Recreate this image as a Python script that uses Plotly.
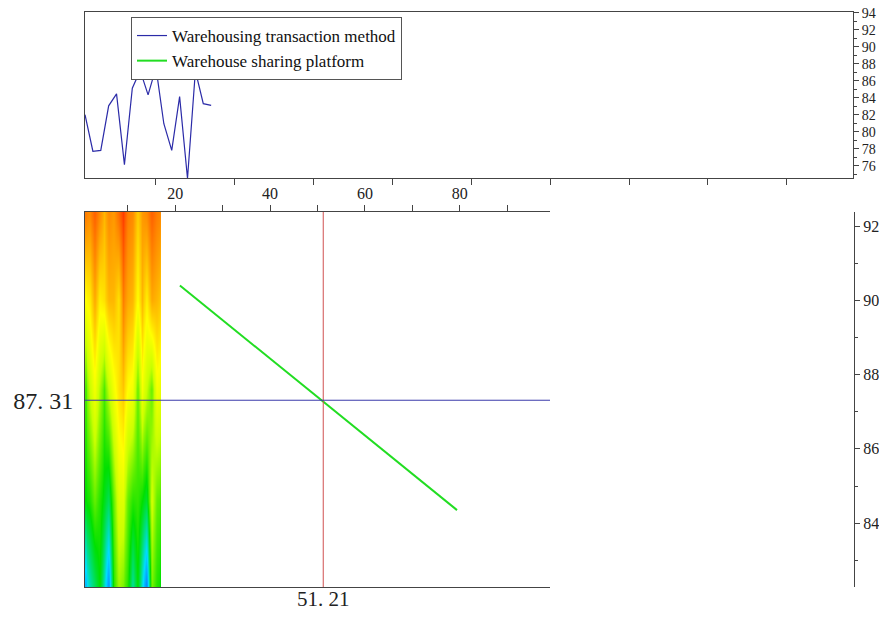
import plotly.graph_objects as go

# ---- data ----
idx = list(range(1, 18))
transaction_vals = [82.0, 77.7, 77.8, 83.05, 84.46, 76.12, 85.12, 87.2, 84.34, 87.55,
                    80.94, 77.8, 84.14, 74.5, 87.16, 83.3, 83.1]
platform_x = [21.0, 79.4]
platform_y = [90.4, 84.35]
cross_x = 51.21
cross_y = 87.31

heat_y = [82.35, 84.6, 87.6, 90.0, 92.3]
heat_bottom = [0.18, 0.28, 0.35, 0.42, 0.28, 0.12, 0.45, 0.55, 0.52, 0.45, 0.30, 0.42, 0.25, 0.10, 0.52, 0.45, 0.42]
heat_lower = [0.42, 0.44, 0.50, 0.45, 0.40, 0.35, 0.50, 0.62, 0.62, 0.50, 0.45, 0.46, 0.42, 0.38, 0.60, 0.50, 0.48]
heat_mid = [0.48, 0.58, 0.66, 0.56, 0.48, 0.58, 0.66, 0.72, 0.76, 0.68, 0.66, 0.50, 0.66, 0.58, 0.50, 0.66, 0.64]
heat_upper = [0.68, 0.70, 0.80, 0.70, 0.72, 0.78, 0.78, 0.72, 0.86, 0.80, 0.78, 0.68, 0.78, 0.70, 0.80, 0.78, 0.75]
heat_top = [0.86, 0.84, 0.90, 0.84, 0.78, 0.84, 0.82, 0.88, 0.95, 0.86, 0.84, 0.75, 0.82, 0.84, 0.90, 0.86, 0.84]

top_yticks = list(range(76, 95, 2))
bot_xticks = list(range(10, 100, 10))
bot_xlabels = ["" if v % 20 else str(v) for v in bot_xticks]
right_yticks = list(range(84, 93, 2))

# page is 887x619; the html body has an 8px margin
OFF = 8
W, H = 887 - 2 * OFF, 619 - 2 * OFF
def fx(px):
    return (px - OFF) / W
def fy(py):
    return 1 - (py - OFF) / H

SERIF = "Liberation Serif, Times New Roman, serif"
AX = "#444444"

x_edges = [idx[0]] + [i + 0.5 for i in idx[:-1]] + [idx[-1]]

fig = go.Figure()

fig.add_trace(go.Scatter(x=idx, y=transaction_vals, mode="lines",
                         line=dict(color="#2b2ba8", width=1.2),
                         name="Warehousing transaction method",
                         xaxis="x", yaxis="y"))

fig.add_trace(go.Heatmap(x=x_edges, y=heat_y,
                         z=[heat_bottom, heat_lower, heat_mid, heat_upper, heat_top],
                         zmin=0, zmax=1, zsmooth="best", showscale=False,
                         colorscale=[[0, "#0a3cff"], [0.22, "#00dcff"], [0.42, "#00e000"],
                                     [0.58, "#c8ff00"], [0.68, "#ffff00"], [0.82, "#ff9a00"],
                                     [1, "#ff1a00"]],
                         xaxis="x2", yaxis="y2", hoverinfo="skip", showlegend=False))

fig.add_trace(go.Scatter(x=platform_x, y=platform_y, mode="lines",
                         line=dict(color="#22dd22", width=2),
                         name="Warehouse sharing platform",
                         xaxis="x2", yaxis="y3"))

fig.add_trace(go.Scatter(x=[cross_x], y=[cross_y], mode="markers", opacity=0,
                         showlegend=False, hoverinfo="skip", xaxis="x3", yaxis="y2"))

fig.add_shape(type="line", xref="x2", yref="y2 domain", x0=cross_x, x1=cross_x, y0=0, y1=1,
              line=dict(color="#d05050", width=1))
fig.add_shape(type="line", xref="x2 domain", yref="y2", x0=0, x1=1, y0=cross_y, y1=cross_y,
              line=dict(color="#3a3aaa", width=1))

common = dict(showgrid=False, zeroline=False, showline=True, linecolor=AX, linewidth=1,
              tickcolor=AX, automargin=False, ticklabeloverflow="allow",
              tickfont=dict(family=SERIF, size=16, color="#222"))

fig.update_layout(
    width=W, height=H, margin=dict(l=0, r=0, t=0, b=0, autoexpand=False),
    paper_bgcolor="white", plot_bgcolor="rgba(0,0,0,0)",
    xaxis=dict(domain=[fx(85), fx(853)], anchor="y", range=[1, 98.4],
               tickvals=bot_xticks, showticklabels=False, ticks="outside", ticklen=6,
               mirror=True, **common),
    yaxis=dict(domain=[fy(178), fy(12)], anchor="x", side="right", range=[74.55, 94.1],
               tickvals=top_yticks, ticks="outside", ticklen=5, mirror=True,
               minor=dict(dtick=1, tick0=0, ticks="outside", ticklen=3, tickcolor=AX),
               **{**common, "tickfont": dict(family=SERIF, size=14, color="#222")}),
    xaxis2=dict(domain=[fx(85), fx(550)], anchor="y2", side="top", range=[1, 99],
                tickvals=bot_xticks, ticktext=bot_xlabels, ticks="outside", ticklen=6,
                mirror=True, **common),
    yaxis2=dict(domain=[fy(587), fy(212)], anchor="x2", range=[82.28, 92.38],
                tickvals=[cross_y], ticktext=["87. 31"], ticks="", mirror=False,
                ticklabelstandoff=6,
                **{**common, "tickfont": dict(family=SERIF, size=24, color="#222")}),
    xaxis3=dict(overlaying="x2", anchor="y2", side="bottom", range=[1, 99],
                tickvals=[cross_x], ticktext=["51. 21"], ticks="", showgrid=False,
                zeroline=False, showline=False, automargin=False,
                ticklabeloverflow="allow", ticklabelstandoff=-3,
                tickfont=dict(family=SERIF, size=21, color="#222")),
    yaxis3=dict(overlaying="y2", anchor="free", position=fx(854), side="right",
                range=[82.28, 92.38], tickvals=right_yticks, ticks="outside", ticklen=5,
                minor=dict(dtick=1, tick0=0, ticks="outside", ticklen=3, tickcolor=AX),
                **common),
    legend=dict(x=fx(131), y=fy(17), xanchor="left", yanchor="top",
                bgcolor="white", bordercolor="#555", borderwidth=1,
                font=dict(family=SERIF, size=17, color="#111"),
                tracegroupgap=0),
    showlegend=True,
)

fig.write_html("out.html")
